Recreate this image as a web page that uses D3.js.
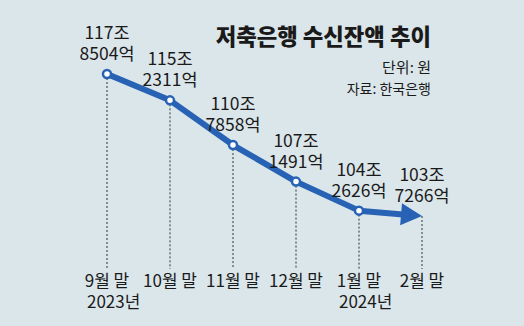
<!DOCTYPE html>
<html><head><meta charset="utf-8">
<script src="https://cdn.jsdelivr.net/npm/d3@7"></script>
<style>
html,body{margin:0;padding:0;background:#dae6ea;}
svg{display:block;}
text{font-family:"Liberation Sans Narrow","Noto Sans CJK KR",sans-serif;fill:#1a1a1a;}
.kr{font-family:"Noto Sans CJK KR",sans-serif;}
</style></head>
<body>
<script>
const categories = ["9월 말","10월 말","11월 말","12월 말","1월 말","2월 말"];
const years = ["2023년","","","","2024년",""];
const labelJo = ["117조","115조","110조","107조","104조","103조"];
const labelEok = ["8504억","2311억","7858억","1491억","2626억","7266억"];
const values = [117.8504, 115.2311, 110.7858, 107.1491, 104.2626, 103.7266];
const title = "저축은행 수신잔액 추이";
const unit = "단위: 원";
const source = "자료: 한국은행";

const W = 524, H = 326;
const blue = "#2862b5";
const svg = d3.select("body").append("svg").attr("width", W).attr("height", H);
svg.append("rect").attr("width", W).attr("height", H).attr("fill", "#dae6ea");

const x = d3.scalePoint().domain(categories).range([107, 422]);
const y = d3.scaleLinear().domain([100, 120]).range([253.5, 52.4]);
const baseY = 269;

const data = categories.map((c, i) => ({c, v: values[i], i}));

// dashed guide lines
svg.selectAll("line.guide").data(data).join("line")
  .attr("x1", d => x(d.c)).attr("x2", d => x(d.c))
  .attr("y1", d => y(d.v)).attr("y2", baseY)
  .attr("stroke", "#333").attr("stroke-width", 1).attr("stroke-dasharray", "2,2");

// line with arrow
const last = data[data.length - 1], prev = data[data.length - 2];
const tx = x(last.c), ty = y(last.v), px = x(prev.c), py = y(prev.v);
const ang = Math.atan2(ty - py, tx - px);
const headLen = 21, headHalf = 11;
const bx = tx - headLen * Math.cos(ang), by = ty - headLen * Math.sin(ang);
const pts = data.slice(0, -1).map(d => [x(d.c), y(d.v)]);
pts.push([bx + 2 * Math.cos(ang), by + 2 * Math.sin(ang)]);
svg.append("path").attr("d", d3.line()(pts))
  .attr("fill", "none").attr("stroke", blue).attr("stroke-width", 6)
  .attr("stroke-linejoin", "round");
const nx = -Math.sin(ang), ny = Math.cos(ang);
svg.append("path").attr("d", d3.line()([[tx, ty], [bx + nx * headHalf, by + ny * headHalf], [bx - nx * headHalf, by - ny * headHalf]]) + "Z")
  .attr("fill", blue);

// markers
svg.selectAll("circle.pt").data(data.slice(0, -1)).join("circle")
  .attr("cx", d => x(d.c)).attr("cy", d => y(d.v)).attr("r", 4)
  .attr("fill", "#fff").attr("stroke", blue).attr("stroke-width", 2.5);

// value labels (one text, two lines)
const lab = svg.selectAll("text.lab").data(data).join("text")
  .attr("class", "lab")
  .attr("transform", d => `translate(${x(d.c)},${y(d.v)})`)
  .attr("text-anchor", "middle").attr("font-size", 17.5);
lab.append("tspan").attr("x", 0).attr("y", -41).attr("dy", "0.35em").text(d => labelJo[d.i]);
lab.append("tspan").attr("x", 0).attr("y", -20).attr("dy", "0.35em").text(d => labelEok[d.i]);

// x labels (month + optional year in one text)
const xl = svg.selectAll("text.xl").data(data).join("text")
  .attr("class", "xl")
  .attr("transform", d => `translate(${x(d.c)},0)`)
  .attr("font-size", 17);
xl.append("tspan").attr("x", 0).attr("y", 281).attr("dy", "0.35em")
  .attr("text-anchor", "middle").text(d => d.c);
xl.filter(d => years[d.i]).append("tspan").attr("x", -20).attr("y", 302).attr("dy", "0.35em")
  .attr("text-anchor", "start").text(d => years[d.i]);

// title block
svg.append("text").attr("class", "kr").attr("x", 431).attr("y", 45).attr("text-anchor", "end")
  .attr("font-size", 22.3).attr("font-weight", 900).attr("fill", "#111").text(title);
svg.append("text").attr("class", "kr").attr("x", 431).attr("y", 73).attr("text-anchor", "end")
  .attr("font-size", 15).text(unit);
svg.append("text").attr("class", "kr").attr("x", 431).attr("y", 94).attr("text-anchor", "end")
  .attr("font-size", 14).attr("fill", "#333").text(source);
</script>
</body></html>
